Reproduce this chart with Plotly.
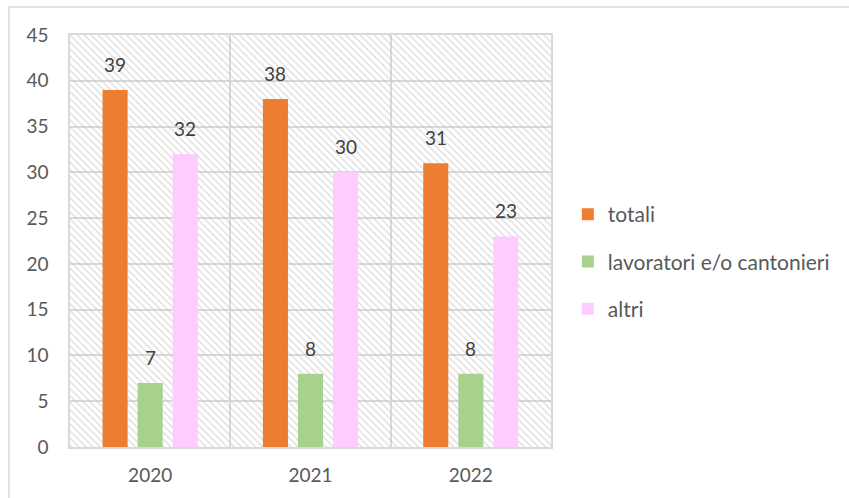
import plotly.graph_objects as go

# Data
years = ["2020", "2021", "2022"]
totali = [39, 38, 31]
lavoratori = [7, 8, 8]
altri = [32, 30, 23]

series_names = ["totali", "lavoratori e/o cantonieri", "altri"]
series_values = [totali, lavoratori, altri]
series_colors = ["#ED7D31", "#A9D18E", "#FFCCFF"]

Y_MAX = 45
FONT = "Lato"
TEXT_COLOR = "#595959"
LABEL_COLOR = "#404040"
GRID = "#d9d9d9"
CAT_PX = 160  # pixel width of one category slot

fig = go.Figure()

# Hatched plot-area background (transparent fill, diagonal lines)
fig.add_trace(go.Bar(
    x=years, y=[Y_MAX] * len(years),
    width=1.0, offset=-0.5,
    marker=dict(color="rgba(0,0,0,0)", line=dict(width=0),
                pattern=dict(shape="\\", fgcolor="#c2c2c2", size=5, solidity=0.3)),
    showlegend=False, hoverinfo="skip",
))

bar_w = 25 / CAT_PX
step = 35 / CAT_PX
centers = [-step, 0.0, step]

for i, (name, vals, col) in enumerate(zip(series_names, series_values, series_colors)):
    fig.add_trace(go.Bar(
        x=years, y=vals, name=name,
        width=bar_w, offset=centers[i] - bar_w / 2,
        marker=dict(color=col, line=dict(width=0)),
        legendgroup=name,
    ))
    # value labels above each bar (category axis: x given as category index)
    for j, v in enumerate(vals):
        fig.add_annotation(
            x=j + centers[i], y=v, text=str(v), showarrow=False,
            yanchor="bottom", yshift=12,
            font=dict(family=FONT, size=19, color=LABEL_COLOR),
        )

fig.update_layout(
    width=849, height=498,
    margin=dict(l=70, r=298, t=35, b=51),
    barmode="overlay",
    paper_bgcolor="white", plot_bgcolor="white",
    font=dict(family=FONT, size=19, color=TEXT_COLOR),
    legend=dict(x=1.035, xanchor="left", y=0.45, yanchor="middle",
                tracegroupgap=17, font=dict(family=FONT, size=21, color=TEXT_COLOR),
                bgcolor="rgba(0,0,0,0)"),
    showlegend=True,
)

fig.update_xaxes(
    type="category", categoryorder="array", categoryarray=years,
    range=[-0.5, len(years) - 0.5], automargin=False,
    tickson="boundaries", showgrid=True, gridcolor=GRID, gridwidth=1.5,
    showline=True, mirror=True, linecolor=GRID, linewidth=1.5,
    ticks="", ticklabelstandoff=10, tickangle=0,
    tickfont=dict(family=FONT, size=19, color=TEXT_COLOR),
)
fig.update_yaxes(
    range=[0, Y_MAX], dtick=5, automargin=False,
    showgrid=True, gridcolor=GRID, gridwidth=1.5,
    showline=True, mirror=True, linecolor=GRID, linewidth=1.5, zeroline=False,
    ticks="", ticklabelstandoff=16, tickfont=dict(family=FONT, size=19, color=TEXT_COLOR),
)

# Outer chart frame
fig.add_shape(type="rect", xref="paper", yref="paper",
              x0=(9 - 70) / 481, x1=(870 - 70) / 481,
              y0=(447 - 520) / 412, y1=(447 - 7) / 412,
              line=dict(color=GRID, width=1.5), fillcolor="rgba(0,0,0,0)", layer="below")

fig.write_html("out.html")
